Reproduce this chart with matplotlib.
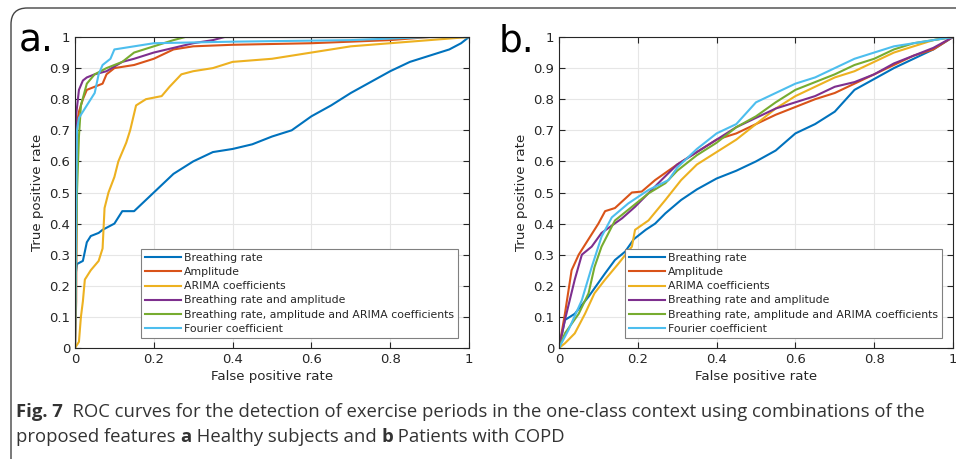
import matplotlib
matplotlib.use('Agg')
import matplotlib.pyplot as plt
from matplotlib.patches import FancyBboxPatch

# ROC curves (false positive rate, true positive rate)
labels = ['Breathing rate', 'Amplitude', 'ARIMA coefficients',
          'Breathing rate and amplitude',
          'Breathing rate, amplitude and ARIMA coefficients',
          'Fourier coefficient']
colors = ['#0072BD', '#D95319', '#EDB120', '#7E2F8E', '#77AC30', '#4DBEEE']

# a. healthy subjects
a_br_x = [0, 0, 0.005, 0.02, 0.03, 0.04, 0.06, 0.07, 0.1, 0.12, 0.15, 0.2, 0.25, 0.3, 0.35, 0.4,
          0.45, 0.5, 0.55, 0.6, 0.65, 0.7, 0.75, 0.8, 0.85, 0.9, 0.95, 0.98, 1]
a_br_y = [0, 0.22, 0.27, 0.28, 0.34, 0.36, 0.37, 0.38, 0.40, 0.44, 0.44, 0.50, 0.56, 0.60, 0.63, 0.64,
          0.655, 0.68, 0.70, 0.745, 0.78, 0.82, 0.855, 0.89, 0.92, 0.94, 0.96, 0.98, 1]
a_amp_x = [0, 0.003, 0.005, 0.01, 0.02, 0.03, 0.05, 0.07, 0.08, 0.1, 0.15, 0.2, 0.25, 0.3, 0.4, 0.6,
           0.7, 0.8, 0.9, 1]
a_amp_y = [0, 0.15, 0.72, 0.76, 0.80, 0.83, 0.84, 0.85, 0.88, 0.90, 0.91, 0.93, 0.96, 0.97, 0.975, 0.98,
           0.985, 0.99, 1.0, 1]
a_ar_x = [0, 0.01, 0.015, 0.02, 0.025, 0.04, 0.06, 0.07, 0.075, 0.085, 0.1, 0.11, 0.13, 0.14, 0.155,
          0.18, 0.22, 0.24, 0.27, 0.3, 0.35, 0.4, 0.5, 0.6, 0.7, 0.8, 0.9, 1]
a_ar_y = [0, 0.02, 0.10, 0.15, 0.22, 0.25, 0.28, 0.32, 0.45, 0.50, 0.55, 0.60, 0.66, 0.70, 0.78,
          0.80, 0.81, 0.84, 0.88, 0.89, 0.90, 0.92, 0.93, 0.95, 0.97, 0.98, 0.99, 1]
a_bra_x = [0, 0.003, 0.01, 0.02, 0.03, 0.05, 0.08, 0.12, 0.15, 0.2, 0.3, 0.35, 0.38, 1]
a_bra_y = [0, 0.75, 0.83, 0.86, 0.87, 0.88, 0.89, 0.92, 0.93, 0.95, 0.98, 0.99, 1.0, 1]
a_all_x = [0, 0.005, 0.01, 0.015, 0.03, 0.05, 0.08, 0.12, 0.15, 0.2, 0.25, 0.28, 1]
a_all_y = [0, 0.50, 0.68, 0.78, 0.85, 0.88, 0.90, 0.92, 0.95, 0.97, 0.99, 1.0, 1]
a_fou_x = [0, 0.002, 0.005, 0.01, 0.03, 0.05, 0.06, 0.07, 0.09, 0.1, 0.15, 0.2, 0.4, 0.7, 0.9, 1]
a_fou_y = [0, 0.30, 0.70, 0.74, 0.78, 0.82, 0.88, 0.91, 0.93, 0.96, 0.97, 0.98, 0.985, 0.99, 1.0, 1]

# b. patients with COPD
b_br_x = [0, 0.015, 0.04, 0.075, 0.117, 0.142, 0.168, 0.19, 0.22, 0.244, 0.27, 0.31, 0.35, 0.4, 0.45,
          0.5, 0.55, 0.6, 0.65, 0.7, 0.75, 0.8, 0.85, 0.9, 0.95, 1]
b_br_y = [0, 0.09, 0.11, 0.165, 0.24, 0.283, 0.31, 0.35, 0.38, 0.40, 0.433, 0.476, 0.51, 0.545, 0.57,
          0.60, 0.635, 0.69, 0.72, 0.76, 0.83, 0.865, 0.90, 0.93, 0.96, 1]
b_amp_x = [0, 0.015, 0.032, 0.05, 0.075, 0.1, 0.117, 0.142, 0.185, 0.21, 0.244, 0.3, 0.35, 0.4, 0.45,
           0.5, 0.55, 0.6, 0.65, 0.7, 0.75, 0.8, 0.85, 0.9, 0.95, 1]
b_amp_y = [0, 0.11, 0.25, 0.30, 0.35, 0.40, 0.44, 0.45, 0.50, 0.503, 0.54, 0.59, 0.63, 0.67, 0.69,
           0.72, 0.75, 0.775, 0.80, 0.82, 0.85, 0.88, 0.91, 0.94, 0.96, 1]
b_ar_x = [0, 0.015, 0.04, 0.066, 0.09, 0.117, 0.15, 0.185, 0.193, 0.227, 0.27, 0.31, 0.35, 0.4, 0.45,
          0.5, 0.55, 0.6, 0.65, 0.7, 0.75, 0.8, 0.85, 0.9, 0.95, 1]
b_ar_y = [0, 0.015, 0.047, 0.11, 0.176, 0.22, 0.27, 0.326, 0.38, 0.41, 0.476, 0.54, 0.59, 0.63, 0.67,
          0.72, 0.77, 0.81, 0.84, 0.87, 0.89, 0.92, 0.95, 0.97, 0.99, 1]
b_bra_x = [0, 0.015, 0.04, 0.058, 0.083, 0.108, 0.16, 0.193, 0.26, 0.3, 0.35, 0.4, 0.45, 0.5, 0.55,
           0.6, 0.65, 0.7, 0.75, 0.8, 0.85, 0.9, 0.95, 1]
b_bra_y = [0, 0.09, 0.22, 0.30, 0.326, 0.37, 0.417, 0.454, 0.54, 0.59, 0.63, 0.67, 0.71, 0.74, 0.77,
           0.79, 0.81, 0.84, 0.855, 0.88, 0.915, 0.94, 0.965, 1]
b_all_x = [0, 0.015, 0.05, 0.075, 0.09, 0.108, 0.142, 0.185, 0.227, 0.27, 0.3, 0.35, 0.4, 0.45, 0.5,
           0.55, 0.6, 0.65, 0.7, 0.75, 0.8, 0.85, 0.9, 0.95, 1]
b_all_y = [0, 0.047, 0.11, 0.176, 0.26, 0.326, 0.41, 0.454, 0.497, 0.53, 0.57, 0.62, 0.66, 0.71, 0.745,
           0.79, 0.83, 0.855, 0.88, 0.91, 0.93, 0.96, 0.98, 0.99, 1]
b_fou_x = [0, 0.024, 0.058, 0.083, 0.108, 0.134, 0.176, 0.227, 0.278, 0.3, 0.35, 0.4, 0.45, 0.5, 0.55,
           0.6, 0.65, 0.7, 0.75, 0.8, 0.85, 0.9, 0.95, 1]
b_fou_y = [0, 0.058, 0.154, 0.26, 0.358, 0.42, 0.465, 0.508, 0.54, 0.58, 0.64, 0.69, 0.72, 0.79, 0.82,
           0.85, 0.87, 0.90, 0.93, 0.95, 0.97, 0.98, 0.99, 1]

panel_a = [(a_br_x, a_br_y), (a_amp_x, a_amp_y), (a_ar_x, a_ar_y),
           (a_bra_x, a_bra_y), (a_all_x, a_all_y), (a_fou_x, a_fou_y)]
panel_b = [(b_br_x, b_br_y), (b_amp_x, b_amp_y), (b_ar_x, b_ar_y),
           (b_bra_x, b_bra_y), (b_all_x, b_all_y), (b_fou_x, b_fou_y)]

xticks = [0, 0.2, 0.4, 0.6, 0.8, 1]
yticks = [0, 0.1, 0.2, 0.3, 0.4, 0.5, 0.6, 0.7, 0.8, 0.9, 1]

W, H = 956, 459
fig = plt.figure(figsize=(W / 100, H / 100), dpi=100)

# rounded frame around the figure
frame = FancyBboxPatch((11 / W, -0.1), 1.2, 1 - 8 / H + 0.1,
                       boxstyle='round,pad=0,rounding_size=0.017',
                       transform=fig.transFigure, facecolor='none',
                       edgecolor='#444444', linewidth=1.0, mutation_aspect=W / H)
fig.patches.append(frame)

def draw_panel(ax, curves):
    for (x, y), c, lab in zip(curves, colors, labels):
        ax.plot(x, y, color=c, lw=1.5, label=lab)
    ax.set_xlim(0, 1)
    ax.set_ylim(0, 1)
    ax.set_xticks(xticks)
    ax.set_yticks(yticks)
    ax.set_xticklabels(['%g' % t for t in xticks])
    ax.set_yticklabels(['%g' % t for t in yticks])
    ax.grid(True, color='#e6e6e6', lw=0.8)
    ax.set_axisbelow(True)
    ax.tick_params(direction='in', top=True, right=True, length=4,
                   labelsize=9.5, colors='#262626', width=0.8)
    for s in ax.spines.values():
        s.set_color('#262626')
        s.set_linewidth(0.8)
    ax.set_xlabel('False positive rate', fontsize=9.6, color='#262626', labelpad=3)
    ax.set_ylabel('True positive rate', fontsize=9.6, color='#262626', labelpad=4)
    leg = ax.legend(loc='lower right', bbox_to_anchor=(0.972, 0.032), fontsize=7.8,
                    fancybox=False, edgecolor='#808080', framealpha=1,
                    handlelength=3.3, handletextpad=0.25, labelspacing=0.38,
                    borderpad=0.4, borderaxespad=0)
    leg.get_frame().set_linewidth(0.8)
    for t in leg.get_texts():
        t.set_color('#262626')

ax1 = fig.add_axes([75 / W, 1 - 348 / H, 394 / W, 311 / H])
draw_panel(ax1, panel_a)
ax2 = fig.add_axes([559 / W, 1 - 348 / H, 394 / W, 311 / H])
draw_panel(ax2, panel_b)

fig.text(19 / W, 1 - 51 / H, 'a.', fontsize=27, color='black')
fig.text(499 / W, 1 - 51 / H, 'b.', fontsize=27, color='black')

# caption with bold pieces
renderer = fig.canvas.get_renderer()
cap_font = 'Open Sans'
cap_size = 13.3

def caption_line(pieces, x0, y0):
    x = x0
    for txt, bold in pieces:
        t = fig.text(x / W, 1 - y0 / H, txt, fontsize=cap_size, family=cap_font,
                     weight='bold' if bold else 'normal', color='#333333')
        bb = t.get_window_extent(renderer=renderer)
        x += bb.width

caption_line([('Fig. 7', True),
              ('  ROC curves for the detection of exercise periods in the one-class context '
               'using combinations of the', False)], 16, 417)
caption_line([('proposed features ', False), ('a', True), (' Healthy subjects and ', False),
              ('b', True), (' Patients with COPD', False)], 16, 442)

fig.savefig('out.png', dpi=100)
